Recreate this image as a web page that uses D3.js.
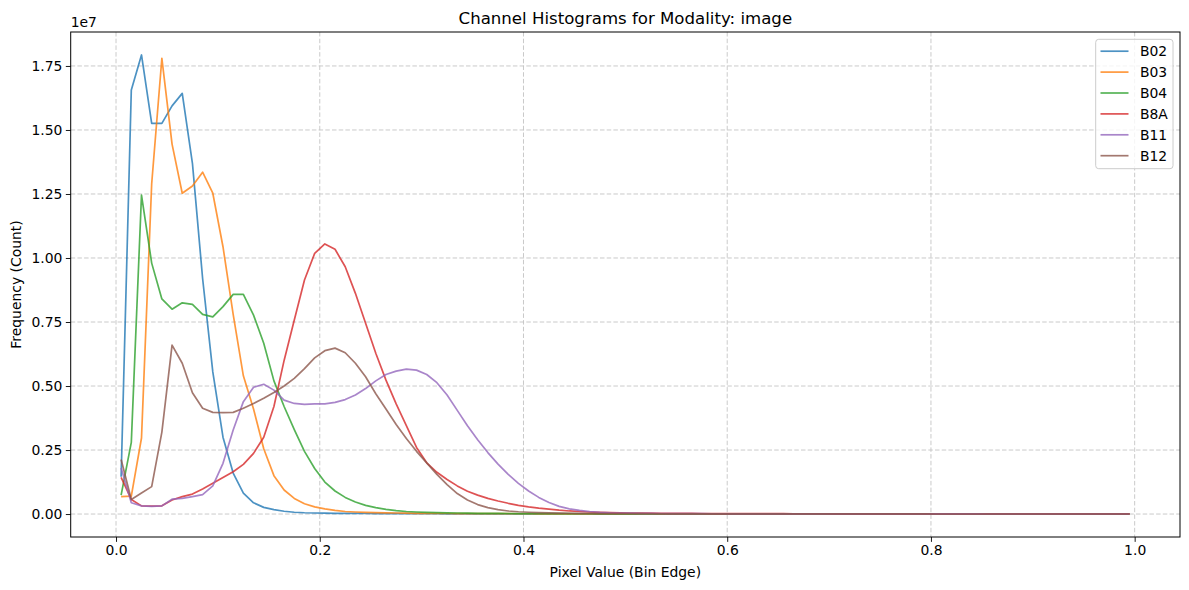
<!DOCTYPE html>
<html>
<head>
<meta charset="utf-8">
<script src="https://cdn.jsdelivr.net/npm/d3@7"></script>
<style>
  html, body { margin: 0; padding: 0; background: #fff; }
  svg { display: block; font-family: "DejaVu Sans", sans-serif; }
</style>
</head>
<body>
<svg id="chart" width="1189" height="590"></svg>
<script>
// ---- data (counts in units of 1e7) ----
const bandNames = ["B02", "B03", "B04", "B8A", "B11", "B12"];
const bandColors = ["#1f77b4", "#ff7f0e", "#2ca02c", "#d62728", "#9467bd", "#8c564b"];
const binEdges = d3.range(100).map(i => +(0.005 + i * 0.01).toFixed(3));
const xTicks = [0.0, 0.2, 0.4, 0.6, 0.8, 1.0];
const yTicks = [0.00, 0.25, 0.50, 0.75, 1.00, 1.25, 1.50, 1.75];

const b02 = [0.146,1.656,1.793,1.526,1.526,1.594,1.643,1.37,0.92,0.555,
 0.30,0.16,0.082,0.044,0.026,0.017,0.011,0.007,0.005,0.004,
 0.0035,0.003,0.0027,0.0024,0.0021,0.0019,0.0017,0.0015,0.0014,0.0013,
 0.0012,0.0011,0.001,0.001,0.0009,0.0009,0.0008,0.0008,0.0007,0.0007,
 0.0006,0.0006,0.0006,0.0005,0.0005,0.0005,0.0005,0.0004,0.0004,0.0004,
 0.0004,0.0004,0.0004,0.0003,0.0003,0.0003,0.0003,0.0003,0.0003,0.0003,
 0.0003,0.0003,0.0003,0.0002,0.0002,0.0002,0.0002,0.0002,0.0002,0.0002,
 0.0002,0.0002,0.0002,0.0002,0.0002,0.0002,0.0002,0.0002,0.0001,0.0001,
 0.0001,0.0001,0.0001,0.0001,0.0001,0.0001,0.0001,0.0001,0.0001,0.0001,
 0.0001,0.0001,0.0001,0.0001,0.0001,0.0001,0.0001,0.0001,0.0001,0.0001];

const b03 = [0.068,0.07,0.297,1.29,1.78,1.445,1.253,1.281,1.335,1.253,
 1.044,0.78,0.54,0.41,0.255,0.15,0.094,0.061,0.04,0.028,
 0.02,0.014,0.01,0.008,0.0065,0.0055,0.0045,0.004,0.0035,0.003,
 0.0027,0.0024,0.0022,0.002,0.0018,0.0016,0.0015,0.0014,0.0013,0.0012,
 0.0011,0.001,0.001,0.0009,0.0009,0.0008,0.0008,0.0007,0.0007,0.0007,
 0.0006,0.0006,0.0006,0.0005,0.0005,0.0005,0.0005,0.0004,0.0004,0.0004,
 0.0004,0.0004,0.0003,0.0003,0.0003,0.0003,0.0003,0.0003,0.0003,0.0003,
 0.0002,0.0002,0.0002,0.0002,0.0002,0.0002,0.0002,0.0002,0.0002,0.0002,
 0.0002,0.0002,0.0001,0.0001,0.0001,0.0001,0.0001,0.0001,0.0001,0.0001,
 0.0001,0.0001,0.0001,0.0001,0.0001,0.0001,0.0001,0.0001,0.0001,0.0001];

const b04 = [0.074,0.28,1.246,0.98,0.84,0.80,0.825,0.819,0.78,0.77,
 0.81,0.858,0.858,0.777,0.667,0.52,0.42,0.33,0.245,0.178,
 0.125,0.09,0.065,0.047,0.034,0.025,0.018,0.013,0.01,0.008,
 0.0065,0.0055,0.0045,0.004,0.0035,0.003,0.0027,0.0024,0.0022,0.002,
 0.0018,0.0016,0.0015,0.0014,0.0013,0.0012,0.0011,0.001,0.001,0.0009,
 0.0009,0.0008,0.0008,0.0007,0.0007,0.0007,0.0006,0.0006,0.0006,0.0005,
 0.0005,0.0005,0.0005,0.0004,0.0004,0.0004,0.0004,0.0004,0.0003,0.0003,
 0.0003,0.0003,0.0003,0.0003,0.0003,0.0003,0.0002,0.0002,0.0002,0.0002,
 0.0002,0.0002,0.0002,0.0002,0.0002,0.0002,0.0002,0.0002,0.0001,0.0001,
 0.0001,0.0001,0.0001,0.0001,0.0001,0.0001,0.0001,0.0001,0.0001,0.0001];

const b8a = [0.143,0.057,0.032,0.031,0.032,0.055,0.068,0.078,0.098,0.12,
 0.143,0.165,0.194,0.237,0.30,0.42,0.60,0.758,0.914,1.018,
 1.055,1.034,0.966,0.862,0.745,0.628,0.523,0.43,0.345,0.26,
 0.20,0.163,0.135,0.11,0.089,0.074,0.061,0.051,0.042,0.034,
 0.028,0.023,0.019,0.015,0.012,0.01,0.008,0.0065,0.0055,0.0045,
 0.004,0.0036,0.0033,0.003,0.0028,0.0026,0.0024,0.0022,0.002,0.0019,
 0.0018,0.0017,0.0016,0.0015,0.0014,0.0013,0.0012,0.0012,0.0011,0.0011,
 0.001,0.001,0.001,0.001,0.0009,0.0009,0.0009,0.0009,0.0008,0.0008,
 0.0008,0.0008,0.0007,0.0007,0.0007,0.0007,0.0006,0.0006,0.0006,0.0006,
 0.0005,0.0005,0.0005,0.0005,0.0005,0.0004,0.0004,0.0004,0.0004,0.0004];

const b11 = [0.18,0.044,0.032,0.03,0.032,0.058,0.061,0.068,0.076,0.11,
 0.198,0.328,0.439,0.495,0.507,0.484,0.445,0.432,0.428,0.43,
 0.43,0.436,0.447,0.465,0.49,0.52,0.545,0.558,0.566,0.562,
 0.545,0.513,0.465,0.405,0.345,0.29,0.24,0.195,0.155,0.12,
 0.09,0.065,0.045,0.03,0.02,0.014,0.01,0.007,0.005,0.004,
 0.0033,0.0028,0.0024,0.0021,0.0018,0.0016,0.0014,0.0013,0.0012,0.0011,
 0.001,0.0009,0.0009,0.0008,0.0008,0.0007,0.0007,0.0006,0.0006,0.0006,
 0.0005,0.0005,0.0005,0.0005,0.0004,0.0004,0.0004,0.0004,0.0003,0.0003,
 0.0003,0.0003,0.0003,0.0003,0.0003,0.0002,0.0002,0.0002,0.0002,0.0002,
 0.0002,0.0002,0.0002,0.0002,0.0002,0.0001,0.0001,0.0001,0.0001,0.0001];

const b12 = [0.213,0.057,0.082,0.107,0.32,0.66,0.589,0.474,0.413,0.397,
 0.396,0.397,0.413,0.432,0.452,0.475,0.50,0.53,0.568,0.61,
 0.638,0.648,0.63,0.589,0.536,0.47,0.41,0.35,0.295,0.245,
 0.20,0.155,0.115,0.08,0.055,0.037,0.025,0.017,0.012,0.009,
 0.007,0.0055,0.0045,0.0038,0.0032,0.0027,0.0023,0.002,0.0018,0.0016,
 0.0014,0.0013,0.0012,0.0011,0.001,0.0009,0.0009,0.0008,0.0008,0.0007,
 0.0007,0.0006,0.0006,0.0006,0.0005,0.0005,0.0005,0.0005,0.0004,0.0004,
 0.0004,0.0004,0.0004,0.0003,0.0003,0.0003,0.0003,0.0003,0.0003,0.0003,
 0.0002,0.0002,0.0002,0.0002,0.0002,0.0002,0.0002,0.0002,0.0002,0.0002,
 0.0002,0.0002,0.0001,0.0001,0.0001,0.0001,0.0001,0.0001,0.0001,0.0001];

const seriesValues = [b02, b03, b04, b8a, b11, b12];

// ---- layout ----
const plotL = 70.7, plotR = 1180, plotT = 32, plotB = 537;
const svg = d3.select("#chart");

const xMin = d3.min(binEdges), xMax = d3.max(binEdges);
const xPad = (xMax - xMin) * 0.05;
const x = d3.scaleLinear().domain([xMin - xPad, xMax + xPad]).range([plotL, plotR]);

const yMaxData = d3.max(seriesValues, s => d3.max(s));
const yPad = yMaxData * 0.05;
const y = d3.scaleLinear().domain([-yPad, yMaxData + yPad]).range([plotB, plotT]);

// grid
const grid = svg.append("g").attr("stroke", "#c4c4c4")
  .attr("stroke-width", 0.9).attr("stroke-dasharray", "4.5,2.2");
grid.selectAll("line.gx").data(xTicks).join("line").attr("class", "gx")
  .attr("x1", d => x(d)).attr("x2", d => x(d)).attr("y1", plotT).attr("y2", plotB);
grid.selectAll("line.gy").data(yTicks).join("line").attr("class", "gy")
  .attr("x1", plotL).attr("x2", plotR).attr("y1", d => y(d)).attr("y2", d => y(d));

// lines
const line = d3.line().x((d, i) => x(binEdges[i])).y(d => y(d));
svg.append("g").selectAll("path").data(seriesValues).join("path")
  .attr("d", d => line(d))
  .attr("fill", "none")
  .attr("stroke", (d, i) => bandColors[i])
  .attr("stroke-opacity", 0.8)
  .attr("stroke-width", 1.7)
  .attr("stroke-linejoin", "round");

// axes
const fs = 13.9;
const xAxis = d3.axisBottom(x).tickValues(xTicks).tickFormat(d3.format(".1f"))
  .tickSizeInner(4.86).tickSizeOuter(0).tickPadding(3.5);
const gx = svg.append("g").attr("transform", `translate(0,${plotB})`).call(xAxis);
gx.select(".domain").remove();
gx.selectAll("line").attr("stroke", "#000").attr("stroke-width", 0.9);
gx.selectAll("text").attr("font-size", fs).attr("font-family", "DejaVu Sans").attr("fill", "#000");

const yAxis = d3.axisLeft(y).tickValues(yTicks).tickFormat(d3.format(".2f"))
  .tickSizeInner(4.86).tickSizeOuter(0).tickPadding(3.5);
const gy = svg.append("g").attr("transform", `translate(${plotL},0)`).call(yAxis);
gy.select(".domain").remove();
gy.selectAll("line").attr("stroke", "#000").attr("stroke-width", 0.9);
gy.selectAll("text").attr("font-size", fs).attr("font-family", "DejaVu Sans").attr("fill", "#000");

// spines
svg.append("rect").attr("x", plotL).attr("y", plotT).attr("width", plotR - plotL).attr("height", plotB - plotT)
  .attr("fill", "none").attr("stroke", "#000").attr("stroke-width", 1);

// texts
svg.append("text").attr("x", (plotL + plotR) / 2).attr("y", 24).attr("text-anchor", "middle")
  .attr("font-size", 16.6).text("Channel Histograms for Modality: image");
svg.append("text").attr("x", plotL).attr("y", 27).attr("font-size", fs).text("1e7");
svg.append("text").attr("x", (plotL + plotR) / 2).attr("y", 577).attr("text-anchor", "middle")
  .attr("font-size", fs).text("Pixel Value (Bin Edge)");
svg.append("text").attr("transform", `translate(21,${(plotT + plotB) / 2}) rotate(-90)`)
  .attr("text-anchor", "middle").attr("font-size", fs).text("Frequency (Count)");

// legend
const lg = svg.append("g");
lg.append("rect").attr("x", 1095.7).attr("y", 39.3).attr("width", 1173 - 1095.7).attr("height", 168.7 - 39.3)
  .attr("rx", 3).attr("ry", 3).attr("fill", "#fff").attr("fill-opacity", 0.8)
  .attr("stroke", "#cccccc").attr("stroke-width", 1);
const rowY = i => 51.2 + i * 20.9;
lg.selectAll("line.h").data(bandNames).join("line").attr("class", "h")
  .attr("x1", 1100.5).attr("x2", 1128.5).attr("y1", (d, i) => rowY(i)).attr("y2", (d, i) => rowY(i))
  .attr("stroke", (d, i) => bandColors[i]).attr("stroke-opacity", 0.8).attr("stroke-width", 1.7);
lg.selectAll("text.t").data(bandNames).join("text").attr("class", "t")
  .attr("x", 1140).attr("y", (d, i) => rowY(i) + 5.1).attr("font-size", fs).text(d => d);
</script>
</body>
</html>
